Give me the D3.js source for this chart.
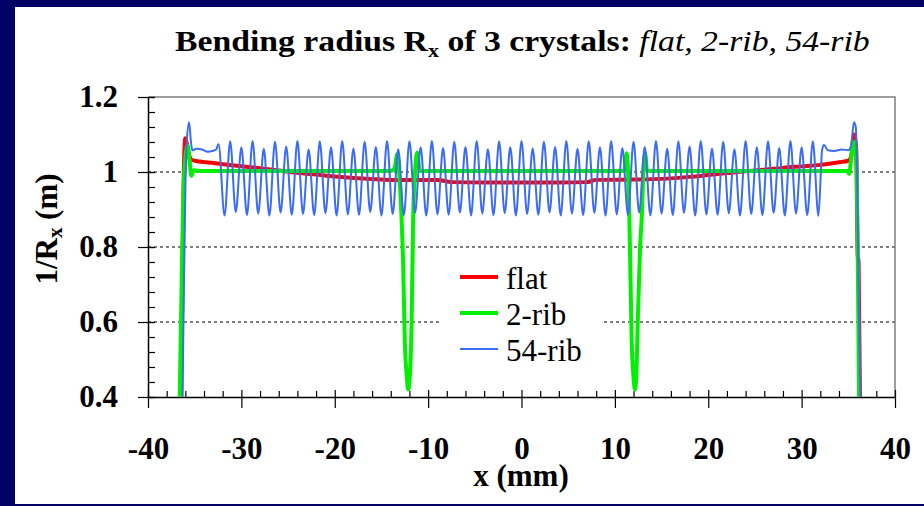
<!DOCTYPE html>
<html>
<head>
<meta charset="utf-8">
<script src="https://cdn.jsdelivr.net/npm/d3@7"></script>
<style>
  html, body { margin: 0; padding: 0; background: #000066; }
  svg { display: block; }
  svg text { font-family: "Liberation Serif"; }
</style>
</head>
<body>
<svg id="chart" width="924" height="506"></svg>
<script>
// ---- data (x in mm, value = 1/Rx in 1/m) ----
const xTicks = [-40, -30, -20, -10, 0, 10, 20, 30, 40]
const yTicks = [0.4, 0.6, 0.8, 1, 1.2]
const gridValues = [0.6, 0.8, 1]
const seriesNames = ["flat", "2-rib", "54-rib"]
const seriesColors = ["#ff0000", "#00f000", "#3a6cf4"]

const flat = [
    [-36.45, 0.40], [-36.35, 0.63], [-36.25, 0.85], [-36.15, 1.02], [-36.0, 1.09], [-35.8, 1.07],
    [-35.6, 1.045], [-35.3, 1.032], [-34.5, 1.028], [-33, 1.024], [-31, 1.018], [-28, 1.010],
    [-26, 1.004], [-24, 0.998], [-22, 0.993], [-20, 0.988], [-18, 0.984], [-16, 0.981], [-14, 0.979],
    [-12, 0.979], [-9, 0.979], [-7.5, 0.973], [-4, 0.972], [0, 0.972], [4, 0.972], [7, 0.973],
    [8, 0.979], [12, 0.980], [14, 0.981], [16, 0.983], [18, 0.987], [20, 0.992], [22, 0.997],
    [24, 1.002], [26, 1.006], [28, 1.011], [30, 1.015], [32, 1.019], [34, 1.026], [35.0, 1.030],
    [35.3, 1.040], [35.6, 1.100], [35.85, 1.060], [36.0, 0.780], [36.1, 0.760], [36.25, 0.40]
]

const rib2 = [
    [-36.6, 0.40], [-36.4, 0.70], [-36.2, 0.95], [-36.0, 1.04], [-35.75, 1.07], [-35.55, 1.03],
    [-35.35, 0.99], [-35.1, 1.005], [-34.5, 1.003], [-14.0, 1.003], [-13.6, 1.010], [-13.3, 1.048],
    [-13.1, 0.997], [-12.85, 0.88], [-12.67, 0.75], [-12.5, 0.55], [-12.3, 0.46], [-12.13, 0.42],
    [-11.95, 0.46], [-11.77, 0.60], [-11.6, 0.88], [-11.4, 1.0], [-11.17, 1.052], [-10.9, 1.003],
    [11.0, 1.003], [11.27, 1.05], [11.55, 0.88], [11.8, 0.55], [12.0, 0.45], [12.16, 0.42],
    [12.3, 0.46], [12.45, 0.60], [12.7, 0.80], [12.88, 0.88], [13.05, 1.0], [13.23, 1.05],
    [13.45, 1.003], [34.9, 1.003], [35.1, 0.995], [35.35, 1.048], [35.65, 1.08], [35.85, 1.04],
    [36.0, 0.80], [36.15, 0.40]
]

const rib54 = [
    [-36.3, 0.40], [-36.15, 0.70], [-36.0, 0.95], [-35.85, 1.08], [-35.6, 1.133], [-35.4, 1.08],
    [-35.25, 1.058], [-34.8, 1.062], [-34.2, 1.060], [-33.6, 1.054], [-33.1, 1.056], [-32.7, 1.060],
    [-32.45, 1.075],
    [-31.8, 0.884], [-31.2, 1.082], [-30.6, 0.893], [-30.0, 1.066],
    [-29.4, 0.885], [-28.8, 1.083], [-28.2, 0.889], [-27.6, 1.062],
    [-27.0, 0.884], [-26.4, 1.081], [-25.8, 0.892], [-25.2, 1.068],
    [-24.6, 0.886], [-24.0, 1.083], [-23.4, 0.888], [-22.8, 1.060],
    [-22.2, 0.885], [-21.6, 1.082], [-21.0, 0.890], [-20.4, 1.066],
    [-19.8, 0.884], [-19.2, 1.083], [-18.6, 0.887], [-18.0, 1.063],
    [-17.4, 0.886], [-16.8, 1.081], [-16.2, 0.893], [-15.6, 1.067],
    [-15.0, 0.884], [-14.4, 1.083], [-13.8, 0.888], [-13.2, 1.061],
    [-12.6, 0.885], [-12.0, 1.082], [-11.4, 0.891], [-10.8, 1.066],
    [-10.2, 0.884], [-9.6, 1.083], [-9.0, 0.887], [-8.4, 1.064],
    [-7.8, 0.886], [-7.2, 1.081], [-6.6, 0.892], [-6.0, 1.067],
    [-5.4, 0.884], [-4.8, 1.083], [-4.2, 0.889], [-3.6, 1.061],
    [-3.0, 0.885], [-2.4, 1.082], [-1.8, 0.890], [-1.2, 1.066],
    [-0.6, 0.884], [0.0, 1.083], [0.6, 0.888], [1.2, 1.063],
    [1.8, 0.886], [2.4, 1.081], [3.0, 0.892], [3.6, 1.067],
    [4.2, 0.884], [4.8, 1.083], [5.4, 0.889], [6.0, 1.062],
    [6.6, 0.885], [7.2, 1.082], [7.8, 0.891], [8.4, 1.066],
    [9.0, 0.884], [9.6, 1.083], [10.2, 0.887], [10.8, 1.064],
    [11.4, 0.886], [12.0, 1.081], [12.6, 0.892], [13.2, 1.067],
    [13.8, 0.884], [14.4, 1.083], [15.0, 0.889], [15.6, 1.062],
    [16.2, 0.885], [16.8, 1.082], [17.4, 0.891], [18.0, 1.068],
    [18.6, 0.884], [19.2, 1.083], [19.8, 0.887], [20.4, 1.063],
    [21.0, 0.886], [21.6, 1.081], [22.2, 0.890], [22.8, 1.061],
    [23.4, 0.884], [24.0, 1.083], [24.6, 0.888], [25.2, 1.066],
    [25.8, 0.885], [26.4, 1.082], [27.0, 0.891], [27.6, 1.064],
    [28.2, 0.884], [28.8, 1.083], [29.4, 0.889], [30.0, 1.066],
    [30.6, 0.885], [31.2, 1.082], [31.8, 0.883],
    [32.2, 1.060], [32.4, 1.072], [32.8, 1.058], [33.5, 1.056], [34.3, 1.060], [35.0, 1.058],
    [35.3, 1.070], [35.6, 1.133], [35.8, 1.120], [36.0, 0.90], [36.15, 0.60], [36.3, 0.40]
]

const seriesData = [flat, rib2, rib54]
const seriesWidths = [4, 4, 2]

// ---- drawing ----
const svg = d3.select("#chart")
const font = "Liberation Serif"

svg.append("rect")
    .attr("x", 15).attr("y", 7)
    .attr("width", 909).attr("height", 497)
    .attr("fill", "#fff")

const x = d3.scaleLinear().domain([-40, 40]).range([148, 895])
const y = d3.scaleLinear().domain([0.4, 1.2]).range([397, 97])

// grid
svg.append("g")
    .selectAll("line")
    .data(gridValues)
    .enter().append("line")
    .attr("x1", x(-40)).attr("x2", x(40))
    .attr("y1", d => y(d)).attr("y2", d => y(d))
    .attr("stroke", "#000")
    .attr("stroke-width", 1)
    .attr("stroke-dasharray", "3,3")

// top / right frame
svg.append("path")
    .attr("d", `M${x(-40)},${y(1.2)}H${x(40)}V${y(0.4)}`)
    .attr("fill", "none")
    .attr("stroke", "#7f7f7f")
    .attr("stroke-width", 1.5)

// minor ticks
let xMinor = d3.range(-40, 40.01, 2).filter(v => v % 10 !== 0)
let yMinor = d3.range(0.4, 1.2001, 0.04)

svg.append("g")
    .attr("transform", `translate(0,${y(0.4)})`)
    .call(d3.axisTop(x).tickValues(xMinor).tickSize(6).tickFormat(""))
    .call(g => g.select(".domain").remove())

svg.append("g")
    .attr("transform", `translate(${x(-40)},0)`)
    .call(d3.axisRight(y).tickValues(yMinor).tickSize(7).tickFormat(""))
    .call(g => g.select(".domain").remove())

// inner part of the major ticks
svg.append("g")
    .attr("transform", `translate(0,${y(0.4)})`)
    .call(d3.axisTop(x).tickValues(xTicks).tickSize(7).tickFormat(""))
    .call(g => g.select(".domain").remove())

svg.append("g")
    .attr("transform", `translate(${x(-40)},0)`)
    .call(d3.axisRight(y).tickValues(yTicks).tickSize(7).tickFormat(""))
    .call(g => g.select(".domain").remove())

// main axes
let xAxis = svg.append("g")
    .attr("transform", `translate(0,${y(0.4)})`)
    .call(d3.axisBottom(x).tickValues(xTicks).tickSize(11).tickSizeOuter(0).tickPadding(29).tickFormat(d => String(d)))

let yAxis = svg.append("g")
    .attr("transform", `translate(${x(-40)},0)`)
    .call(d3.axisLeft(y).tickValues(yTicks).tickSize(10).tickSizeOuter(0).tickPadding(20).tickFormat(d => String(d)))

svg.selectAll(".tick line").attr("stroke", "#000").attr("stroke-width", 1.2)
svg.selectAll(".domain").attr("stroke", "#000").attr("stroke-width", 1.5)

;[xAxis, yAxis].forEach(a => {
    a.attr("font-family", null).attr("font-size", null)
    a.selectAll("text")
        .attr("fill", "#000")
        .style("font-family", font)
        .style("font-weight", "bold")
        .style("font-size", "31px")
})

// series
let line = d3.line()
    .curve(d3.curveMonotoneX)
    .x(d => x(d[0]))
    .y(d => y(d[1]))

svg.append("g")
    .selectAll("path")
    .data(seriesData)
    .enter().append("path")
    .attr("d", d => line(d))
    .attr("fill", "none")
    .attr("stroke", (d, i) => seriesColors[i])
    .attr("stroke-width", (d, i) => seriesWidths[i])
    .attr("stroke-linejoin", "round")

// legend
let legend = svg.append("g").attr("transform", "translate(441,258)")

legend.append("rect")
    .attr("width", 160).attr("height", 114)
    .attr("fill", "#fff")

let entry = legend.selectAll(".entry")
    .data(seriesNames)
    .enter().append("g")
    .attr("class", "entry")
    .attr("transform", (d, i) => `translate(0,${19 + i * 36})`)

entry.append("line")
    .attr("x1", 19).attr("x2", 57)
    .attr("stroke", (d, i) => seriesColors[i])
    .attr("stroke-width", (d, i) => seriesWidths[i])

entry.append("text")
    .attr("x", 65)
    .attr("y", 12)
    .text(d => d)
    .style("font-family", font)
    .style("font-size", "31px")
    .attr("fill", "#000")

// axis titles
let xTitle = svg.append("text")
    .attr("x", 521).attr("y", 486)
    .attr("text-anchor", "middle")
    .style("font-family", font)
    .style("font-weight", "bold")
    .style("font-size", "31px")
    .text("x (mm)")

let yTitle = svg.append("text")
    .attr("transform", "translate(57,229) rotate(-90)")
    .attr("text-anchor", "middle")
    .style("font-family", font)
    .style("font-weight", "bold")
    .style("font-size", "31px")
yTitle.append("tspan").text("1/R")
yTitle.append("tspan").attr("dy", 5).style("font-size", "21px").text("x")
yTitle.append("tspan").attr("dy", -5).text(" (m)")

// chart title, squeezed to the width it has in the picture
let titleG = svg.append("g")
let title = titleG.append("text")
    .style("font-family", font)
    .style("font-size", "29px")
    .attr("fill", "#000")
title.append("tspan").style("font-weight", "bold").text("Bending radius R")
title.append("tspan").style("font-weight", "bold").style("font-size", "19px").attr("dy", 6).text("x")
title.append("tspan").style("font-weight", "bold").attr("dy", -6).text(" of 3 crystals: ")
title.append("tspan").style("font-style", "italic").text("flat, 2-rib, 54-rib")

let tw = title.node().getBBox().width
titleG.attr("transform", `translate(175,51) scale(${695 / tw},1)`)
</script>
</body>
</html>
